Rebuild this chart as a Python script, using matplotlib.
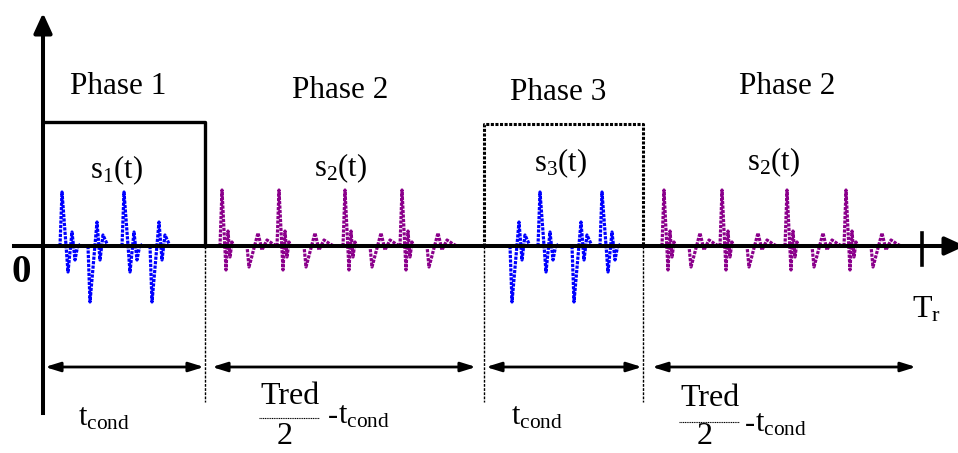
import matplotlib
matplotlib.use("Agg")
import matplotlib.pyplot as plt
import numpy as np

plt.rcParams['font.family'] = ['Liberation Serif', 'DejaVu Serif']
plt.rcParams['mathtext.fontset'] = 'custom'
plt.rcParams['mathtext.rm'] = 'Liberation Serif'
plt.rcParams['mathtext.it'] = 'Liberation Serif:italic'

# ---- data (pixel-space schematic) ----
baseline = 246
# pulse shapes: offsets along time and amplitude (up positive)
up_dx = [0, 2, 8, 12, 15, 18, 20]
up_dy = [0, 54, -26, 14, -14, 2, 0]
down_dx = [0, 2, 9, 12, 15, 20]
down_dy = [0, -56, 24, -14, 11, 0]
s2_dx = [0, 2, 6, 8, 10, 12, 14, 27, 29, 38, 42, 47, 53, 57]
s2_dy = [0, 56, -24, 15, -11, 4, 0, 0, -21, 13, -4, 6, 2, 0]

s1_up_starts = [60, 122]
s1_down_starts = [88, 150]
s3_down_starts = [510, 572]
s3_up_starts = [538, 600]
s2_starts = [220, 277, 343, 400, 662, 720, 785, 844]

phase_labels = ["Phase 1", "Phase 2", "Phase 3", "Phase 2"]
phase_x = [118, 340, 558, 787]
phase_y = [87, 90, 92, 87]
sig_labels = [r"$\mathrm{s_1(t)}$", r"$\mathrm{s_2(t)}$", r"$\mathrm{s_3(t)}$", r"$\mathrm{s_2(t)}$"]
sig_x = [116, 340, 560, 773]
sig_y = [170, 168, 163, 162]

boundaries = [205, 484, 643]
arrow_spans = [(45, 204), (212, 476), (486, 642), (652, 916)]

fig = plt.figure(figsize=(9.58, 4.53), dpi=100)
ax = fig.add_axes([0, 0, 1, 1])
ax.set_xlim(0, 958)
ax.set_ylim(453, 0)
ax.axis('off')

dot = (0, (1.0, 0.4))
def pulse(x0, dxs, dys, color):
    xs = [x0 + d for d in dxs]
    ys = [baseline - d for d in dys]
    ax.plot(xs, ys, color=color, lw=2.3, ls=dot, solid_joinstyle='round', zorder=3)

for x0 in s1_up_starts:
    pulse(x0, up_dx, up_dy, '#0000ff')
for x0 in s1_down_starts:
    pulse(x0, down_dx, down_dy, '#0000ff')
for x0 in s3_up_starts:
    pulse(x0, up_dx, up_dy, '#0000ff')
for x0 in s3_down_starts:
    pulse(x0, down_dx, down_dy, '#0000ff')
for x0 in s2_starts:
    pulse(x0, s2_dx, s2_dy, '#8b008b')

AXLW = 2.9
# axes
ax.plot([43, 43], [413, 28], color='black', lw=AXLW, zorder=4)
ax.annotate('', xy=(43, 13), xytext=(43, 32),
            arrowprops=dict(arrowstyle='-|>,head_length=1.2,head_width=0.55', color='black', lw=AXLW,
                            shrinkA=0, shrinkB=0), zorder=4)
ax.plot([14, 945], [baseline, baseline], color='black', lw=AXLW, zorder=4)
ax.annotate('', xy=(965, baseline), xytext=(944, baseline), annotation_clip=False,
            arrowprops=dict(arrowstyle='-|>,head_length=1.2,head_width=0.55', color='black', lw=AXLW,
                            shrinkA=0, shrinkB=0), zorder=4)
# Tr tick
ax.plot([922.5, 922.5], [233, 265], color='black', lw=2.6, zorder=4)

# phase 1 solid box
ax.plot([43, 205, 205], [122, 122, 246], color='black', lw=2.4, zorder=4)
# phase 3 dotted box
ax.plot([484, 484, 643, 643], [246, 124, 124, 246], color='black', lw=2.2, ls=(0, (1, 0.5)), zorder=4)
# dotted separators
for bx in boundaries:
    ax.plot([bx, bx], [246, 402], color='black', lw=1.0, ls=(0, (2, 1)), zorder=2)

# double arrows
for a, b in arrow_spans:
    ax.annotate('', xy=(b, 367), xytext=(a, 367),
                arrowprops=dict(arrowstyle='<|-|>,head_length=0.9,head_width=0.28', color='black', lw=2.0,
                                shrinkA=0, shrinkB=0))

# texts
for lab, x, y in zip(phase_labels, phase_x, phase_y):
    ax.text(x, y, lab, fontsize=22.5, ha='center', va='center')
for lab, x, y in zip(sig_labels, sig_x, sig_y):
    ax.text(x, y, lab, fontsize=22, ha='center', va='center')

ax.text(21, 273, "0", fontsize=28, fontweight='bold', ha='center', va='center')
ax.text(926, 310, r"$\mathrm{T_r}$", fontsize=23, ha='center', va='center')

ax.text(104, 418, r"$\mathrm{t_{cond}}$", fontsize=22, ha='center', va='center')
ax.text(537, 417, r"$\mathrm{t_{cond}}$", fontsize=22, ha='center', va='center')

# fractions Tred/2 - tcond
for cx, ty, ly, by, mx, my in [(290, 396, 418, 437, 328, 416), (710, 399, 422, 437, 745, 424)]:
    ax.text(cx, ty, "Tred", fontsize=23, ha='center', va='center')
    ax.plot([cx - 31, cx + 29], [ly, ly], color='black', lw=0.8, ls=(0, (1, 0.6)))
    ax.text(cx - 5, by, "2", fontsize=23, ha='center', va='center')
    ax.text(mx, my, "-", fontsize=22, ha='left', va='center')
    ax.text(mx + 10, my, r"$\mathrm{t_{cond}}$", fontsize=22, ha='left', va='center')

fig.savefig('out.png', dpi=100)
